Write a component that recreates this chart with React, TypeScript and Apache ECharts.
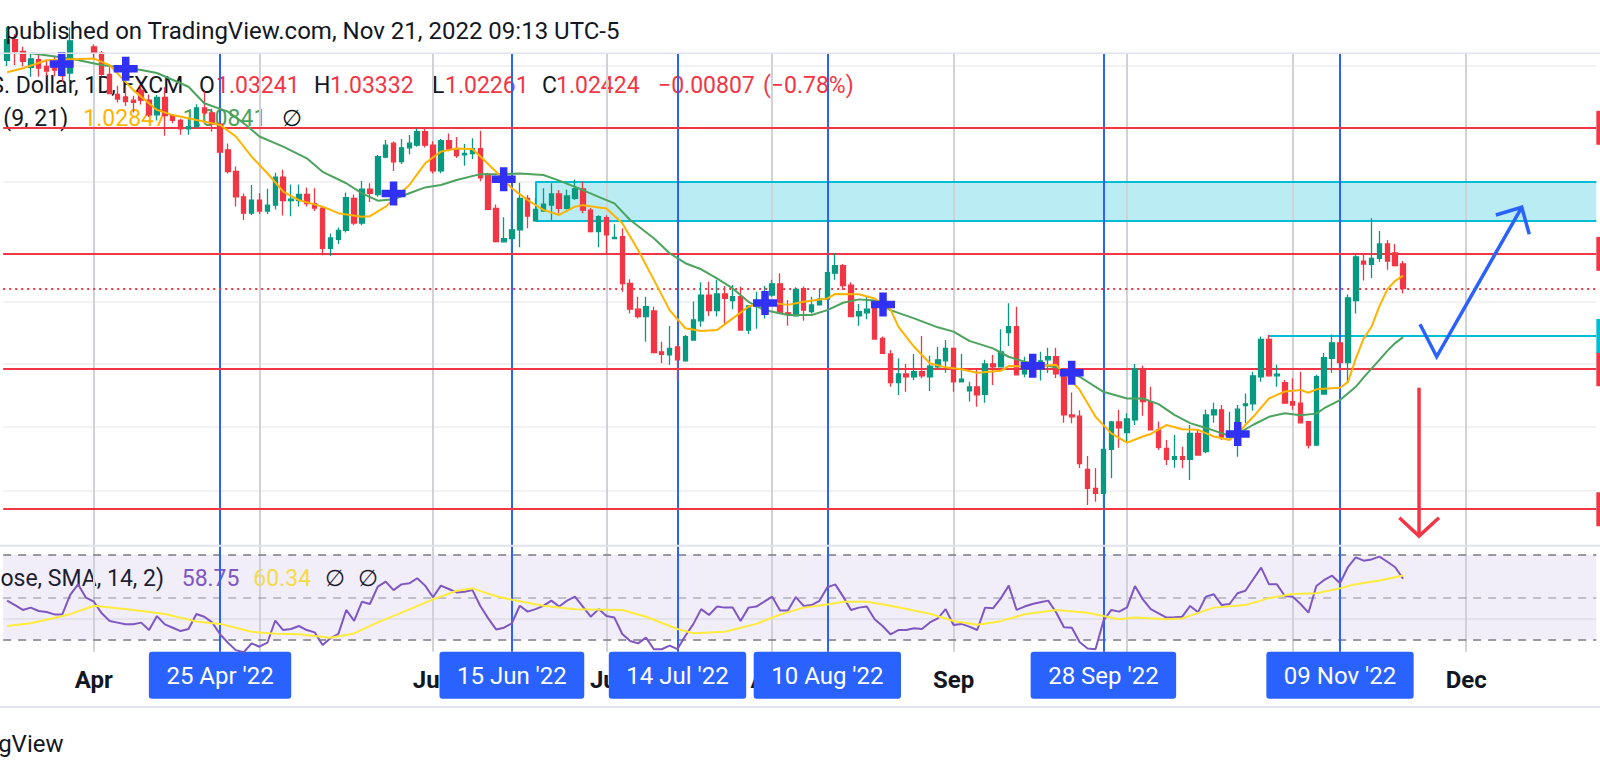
import React, { useEffect, useRef } from "react";
import * as echarts from "echarts";

// ---------- data ----------
const START_DATE = "2022-03-17";
const CATEGORY_COUNT = 202; // weekday slots shown on the time axis (Mar 17 .. Dec 23)

const OPEN = [
  1.1020, 1.1093, 1.1051, 1.0995, 1.1022, 1.0998, 1.1003, 1.0990, 1.0975, 1.1089,
  1.1158, 1.1067, 1.1046, 1.0970, 1.0900, 1.0891, 1.0880, 1.0915, 1.0880, 1.0829,
  1.0890, 1.0826, 1.0810, 1.0780, 1.0788, 1.0853, 1.0836, 1.0797, 1.0708, 1.0634,
  1.0548, 1.0493, 1.0537, 1.0500, 1.0520, 1.0615, 1.0535, 1.0535, 1.0556, 1.0525,
  1.0510, 1.0375, 1.0405, 1.0435, 1.0543, 1.0460, 1.0574, 1.0556, 1.0683, 1.0731,
  1.0668, 1.0715, 1.0724, 1.0771, 1.0724, 1.0636, 1.0740, 1.0711, 1.0691, 1.0695,
  1.0712, 1.0625, 1.0509, 1.0397, 1.0408, 1.0437, 1.0543, 1.0467, 1.0500, 1.0520,
  1.0558, 1.0509, 1.0543, 1.0575, 1.0503, 1.0431, 1.0478, 1.0408, 1.0414, 1.0259,
  1.0175, 1.0151, 1.0169, 1.0037, 1.0027, 1.0053, 1.0008, 1.0075, 1.0137, 1.0221,
  1.0170, 1.0225, 1.0203, 1.0216, 1.0107, 1.0185, 1.0194, 1.0221, 1.0258, 1.0163,
  1.0153, 1.0242, 1.0167, 1.0189, 1.0208, 1.0293, 1.0318, 1.0254, 1.0153, 1.0163,
  1.0185, 1.0080, 1.0030, 0.9938, 0.9966, 0.9957, 0.9973, 0.9957, 0.9989, 1.0008,
  1.0048, 0.9941, 0.9912, 0.9925, 0.9901, 0.9998, 0.9989, 1.0099, 1.0118, 0.9966,
  0.9968, 0.9995, 1.0011, 1.0021, 0.9968, 0.9836, 0.9832, 0.9666, 0.9607, 0.9592,
  0.9728, 0.9814, 0.9780, 0.9820, 0.9982, 0.9878, 0.9789, 0.9731, 0.9697, 0.9705,
  0.9697, 0.9778, 0.9721, 0.9836, 0.9852, 0.9766, 0.9778, 0.9865, 0.9871, 0.9957,
  1.0077, 0.9960, 0.9938, 0.9878, 0.9873, 0.9815, 0.9741, 0.9902, 1.0016, 1.0066,
  1.0002, 1.0203, 1.0333, 1.0322, 1.0342, 1.0390, 1.0360, 1.03241,
];
const HIGH = [
  1.1137, 1.1112, 1.1068, 1.1045, 1.1044, 1.1023, 1.1036, 1.1000, 1.1137, 1.1185,
  1.1176, 1.1077, 1.1053, 1.0995, 1.0930, 1.0927, 1.0895, 1.0930, 1.0900, 1.0898,
  1.0925, 1.0830, 1.0815, 1.0816, 1.0866, 1.0910, 1.0850, 1.0805, 1.0730, 1.0651,
  1.0559, 1.0588, 1.0560, 1.0575, 1.0630, 1.0640, 1.0590, 1.0590, 1.0580, 1.0577,
  1.0515, 1.0425, 1.0445, 1.0563, 1.0556, 1.0602, 1.0594, 1.0690, 1.0742, 1.0737,
  1.0745, 1.0759, 1.0782, 1.0782, 1.0738, 1.0745, 1.0764, 1.0752, 1.0728, 1.0748,
  1.0774, 1.0630, 1.0522, 1.0479, 1.0504, 1.0596, 1.0554, 1.0543, 1.0577, 1.0594,
  1.0571, 1.0572, 1.0607, 1.0599, 1.0510, 1.0486, 1.0486, 1.0456, 1.0442, 1.0273,
  1.0216, 1.0216, 1.0183, 1.0069, 1.0120, 1.0059, 1.0091, 1.0200, 1.0263, 1.0265,
  1.0271, 1.0251, 1.0254, 1.0248, 1.0186, 1.0232, 1.0251, 1.0271, 1.0293, 1.0205,
  1.0247, 1.0249, 1.0216, 1.0243, 1.0361, 1.0359, 1.0323, 1.0263, 1.0192, 1.0216,
  1.0190, 1.0086, 1.0043, 1.0016, 0.9998, 1.0030, 1.0088, 1.0024, 1.0053, 1.0075,
  1.0051, 1.0030, 0.9941, 0.9984, 1.0011, 1.0027, 1.0110, 1.0194, 1.0183, 1.0021,
  1.0030, 1.0037, 1.0050, 1.0050, 0.9976, 0.9907, 0.9851, 0.9707, 0.9670, 0.9755,
  0.9817, 0.9852, 0.9841, 0.9998, 0.9992, 0.9925, 0.9815, 0.9757, 0.9773, 0.9736,
  0.9804, 0.9790, 0.9852, 0.9874, 0.9867, 0.9846, 0.9867, 0.9904, 0.9973, 1.0086,
  1.0091, 0.9995, 0.9947, 0.9952, 0.9973, 0.9816, 0.9963, 1.0033, 1.0093, 1.0080,
  1.0223, 1.0359, 1.0356, 1.0476, 1.0433, 1.0403, 1.0390, 1.03332,
];
const LOW = [
  1.1000, 1.1003, 1.0999, 1.0962, 1.0962, 1.0965, 1.0964, 1.0944, 1.0945, 1.1072,
  1.1060, 1.1025, 1.0963, 1.0902, 1.0872, 1.0860, 1.0837, 1.0865, 1.0821, 1.0809,
  1.0757, 1.0800, 1.0760, 1.0760, 1.0784, 1.0829, 1.0770, 1.0690, 1.0627, 1.0515,
  1.0470, 1.0487, 1.0490, 1.0490, 1.0505, 1.0485, 1.0483, 1.0515, 1.0515, 1.0500,
  1.0352, 1.0350, 1.0390, 1.0428, 1.0452, 1.0452, 1.0531, 1.0548, 1.0679, 1.0636,
  1.0660, 1.0693, 1.0719, 1.0716, 1.0627, 1.0628, 1.0703, 1.0680, 1.0654, 1.0677,
  1.0601, 1.0505, 1.0395, 1.0395, 1.0357, 1.0379, 1.0442, 1.0467, 1.0500, 1.0467,
  1.0493, 1.0505, 1.0537, 1.0493, 1.0428, 1.0379, 1.0359, 1.0408, 1.0232, 1.0161,
  1.0145, 1.0069, 1.0032, 1.0000, 0.9995, 0.9947, 1.0005, 1.0075, 1.0118, 1.0153,
  1.0151, 1.0127, 1.0175, 1.0105, 1.0094, 1.0111, 1.0145, 1.0216, 1.0160, 1.0121,
  1.0150, 1.0137, 1.0161, 1.0189, 1.0203, 1.0271, 1.0238, 1.0150, 1.0121, 1.0142,
  1.0078, 1.0030, 0.9925, 0.9899, 0.9909, 0.9947, 0.9952, 0.9912, 0.9981, 0.9970,
  0.9909, 0.9940, 0.9878, 0.9862, 0.9874, 0.9931, 0.9989, 1.0056, 0.9963, 0.9955,
  0.9957, 0.9945, 0.9969, 0.9953, 0.9811, 0.9810, 0.9670, 0.9556, 0.9566, 0.9543,
  0.9638, 0.9733, 0.9752, 0.9804, 0.9833, 0.9789, 0.9726, 0.9679, 0.9671, 0.9669,
  0.9633, 0.9710, 0.9716, 0.9811, 0.9757, 0.9762, 0.9705, 0.9810, 0.9849, 0.9941,
  0.9957, 0.9925, 0.9872, 0.9852, 0.9811, 0.9731, 0.9741, 0.9900, 0.9970, 0.9970,
  0.9938, 1.0161, 1.0269, 1.0277, 1.0331, 1.0304, 1.0315, 1.02261,
];
const CLOSE = [
  1.1093, 1.1051, 1.1016, 1.1025, 1.0992, 1.0982, 1.0985, 1.0965, 1.1089, 1.1158,
  1.1067, 1.1046, 1.0970, 1.0903, 1.0884, 1.0875, 1.0872, 1.0880, 1.0829, 1.0890,
  1.0826, 1.0810, 1.0780, 1.0788, 1.0853, 1.0836, 1.0797, 1.0700, 1.0634, 1.0548,
  1.0493, 1.0537, 1.0500, 1.0520, 1.0615, 1.0535, 1.0540, 1.0556, 1.0525, 1.0510,
  1.0375, 1.0410, 1.0435, 1.0545, 1.0460, 1.0574, 1.0560, 1.0685, 1.0724, 1.0667,
  1.0715, 1.0731, 1.0771, 1.0724, 1.0636, 1.0740, 1.0711, 1.0688, 1.0696, 1.0712,
  1.0612, 1.0506, 1.0398, 1.0408, 1.0437, 1.0543, 1.0483, 1.0506, 1.0523, 1.0558,
  1.0509, 1.0551, 1.0575, 1.0503, 1.0431, 1.0481, 1.0420, 1.0412, 1.0259, 1.0175,
  1.0151, 1.0183, 1.0034, 1.0029, 1.0048, 1.0011, 1.0086, 1.0140, 1.0221, 1.0170,
  1.0225, 1.0210, 1.0216, 1.0107, 1.0186, 1.0194, 1.0221, 1.0258, 1.0161, 1.0159,
  1.0240, 1.0172, 1.0189, 1.0208, 1.0295, 1.0318, 1.0252, 1.0151, 1.0167, 1.0175,
  1.0078, 1.0032, 0.9938, 0.9966, 0.9957, 0.9973, 0.9960, 0.9991, 1.0011, 1.0048,
  0.9941, 0.9949, 0.9925, 0.9899, 0.9998, 0.9989, 1.0037, 1.0118, 0.9963, 0.9981,
  1.0005, 1.0008, 1.0021, 0.9966, 0.9836, 0.9830, 0.9684, 0.9607, 0.9592, 0.9728,
  0.9814, 0.9795, 0.9823, 0.9982, 0.9878, 0.9789, 0.9734, 0.9697, 0.9705, 0.9697,
  0.9778, 0.9710, 0.9836, 0.9852, 0.9766, 0.9778, 0.9854, 0.9871, 0.9960, 1.0077,
  0.9960, 0.9965, 0.9873, 0.9867, 0.9811, 0.9741, 0.9957, 1.0018, 1.0066, 1.0002,
  1.0212, 1.0347, 1.0323, 1.0342, 1.0390, 1.0333, 1.0318, 1.02424,
];

// moving averages: [bar index, price]
const EMA_FAST_POINTS: [number, number][] = [
  [0, 1.0978], [2, 1.0992], [5, 1.1020], [11, 1.1026], [13, 1.1003], [16, 1.0915], [19, 1.0846],
  [21, 1.0828], [24, 1.0811], [27, 1.0794], [29, 1.0754], [31, 1.0685], [33, 1.0628], [35, 1.0566],
  [37, 1.0537], [40, 1.0515], [42, 1.0493], [45, 1.0481], [46, 1.0483], [48, 1.0515], [51, 1.0588],
  [53, 1.0662], [55, 1.0702], [57, 1.0713], [59, 1.0711], [60, 1.0685], [62, 1.0633], [64, 1.0577],
  [66, 1.0537], [68, 1.0504], [70, 1.0487], [72, 1.0515], [73, 1.0520], [76, 1.0509], [78, 1.0459],
  [80, 1.0370], [82, 1.0271], [84, 1.0172], [86, 1.0113], [88, 1.0104], [90, 1.0107], [92, 1.0145],
  [94, 1.0183], [96, 1.0199], [99, 1.0189], [101, 1.0199], [104, 1.0210], [105, 1.0225], [108, 1.0224],
  [110, 1.0210], [112, 1.0175], [113, 1.0118], [115, 1.0053], [117, 1.0000], [119, 0.9987], [121, 0.9981],
  [123, 0.9970], [126, 0.9976], [127, 0.9991], [130, 0.9989], [133, 0.9995], [136, 0.9915], [138, 0.9830],
  [140, 0.9778], [142, 0.9749], [144, 0.9768], [145, 0.9776], [147, 0.9804], [149, 0.9791], [151, 0.9789],
  [153, 0.9768], [155, 0.9757], [156, 0.9778], [158, 0.9830], [160, 0.9888], [162, 0.9910], [164, 0.9915],
  [165, 0.9906], [166, 0.9917], [169, 0.9922], [170, 0.9940], [171, 1.0015], [172, 1.0080], [173, 1.0118],
  [174, 1.0185], [175, 1.0240], [176, 1.0268], [177, 1.02847],
];
const EMA_SLOW_POINTS: [number, number][] = [
  [3, 1.1045], [8, 1.1026], [12, 1.1003], [17, 1.0986], [19, 1.0975], [23, 1.0927], [25, 1.0869],
  [28, 1.0840], [30, 1.0800], [32, 1.0754], [35, 1.0719], [38, 1.0679], [40, 1.0633], [43, 1.0594],
  [45, 1.0560], [47, 1.0535], [49, 1.0540], [51, 1.0560], [53, 1.0580], [55, 1.0588], [57, 1.0605],
  [60, 1.0625], [63, 1.0625], [65, 1.0627], [68, 1.0622], [70, 1.0603], [73, 1.0571], [75, 1.0548],
  [77, 1.0526], [79, 1.0470], [82, 1.0409], [84, 1.0359], [86, 1.0326], [88, 1.0306], [90, 1.0276],
  [92, 1.0243], [94, 1.0199], [96, 1.0172], [99, 1.0156], [102, 1.0156], [104, 1.0172], [106, 1.0196],
  [108, 1.0207], [110, 1.0203], [112, 1.0172], [115, 1.0145], [118, 1.0116], [120, 1.0102], [122, 1.0072],
  [125, 1.0048], [127, 1.0021], [129, 1.0005], [131, 0.9997], [133, 0.9987], [136, 0.9957], [139, 0.9909],
  [142, 0.9888], [144, 0.9888], [146, 0.9870], [148, 0.9836], [150, 0.9810], [152, 0.9795], [155, 0.9770],
  [156, 0.9776], [158, 0.9805], [160, 0.9830], [162, 0.9841], [164, 0.9835], [166, 0.9840], [167, 0.9857],
  [169, 0.9883], [171, 0.9925], [172, 0.9955], [174, 1.0011], [175, 1.0040], [176, 1.0065], [177, 1.00841],
];

const RSI = [
  48.4, 46.3, 44.0, 45.1, 43.5, 43.0, 41.9, 41.9, 51.1, 56.1,
  49.8, 47.9, 42.4, 38.8, 38.0, 37.2, 37.2, 38.0, 34.5, 41.1,
  37.2, 35.6, 34.0, 35.0, 42.1, 40.8, 38.1, 32.5, 28.5, 25.0,
  24.0, 28.2, 26.6, 28.5, 39.0, 34.5, 35.0, 36.4, 34.5, 33.4,
  27.4, 30.6, 32.7, 44.0, 38.8, 47.9, 46.8, 55.0, 57.4, 53.4,
  56.1, 56.6, 59.0, 55.5, 50.0, 55.5, 53.9, 52.3, 52.6, 53.4,
  45.9, 40.0, 34.8, 35.6, 37.7, 46.0, 43.2, 44.4, 45.9, 48.4,
  45.6, 48.4, 50.3, 45.6, 40.8, 44.4, 41.1, 40.4, 32.6, 29.3,
  28.2, 30.9, 25.4, 25.4, 27.1, 25.5, 31.8, 37.3, 44.4, 41.6,
  45.6, 45.1, 45.2, 38.8, 45.1, 45.6, 47.9, 50.3, 43.7, 43.7,
  50.1, 45.9, 46.3, 48.3, 54.7, 56.1, 50.3, 44.0, 45.1, 45.6,
  39.6, 36.4, 32.5, 34.5, 34.5, 35.3, 35.0, 38.1, 40.0, 44.4,
  36.9, 37.4, 36.1, 34.5, 45.1, 44.8, 49.5, 55.5, 44.0, 45.6,
  46.8, 47.6, 48.4, 42.9, 35.8, 35.6, 28.7, 25.8, 25.4, 38.8,
  44.0, 43.2, 45.2, 55.3, 49.0, 44.4, 42.4, 40.4, 40.5, 40.8,
  45.9, 42.9, 50.3, 51.4, 46.3, 46.8, 51.9, 53.1, 58.5, 64.0,
  56.1, 56.1, 50.6, 50.3, 46.8, 42.7, 55.3, 58.2, 60.2, 56.6,
  64.2, 68.9, 67.3, 67.9, 69.2, 66.8, 64.2, 58.75,
];
const RSI_MA_POINTS: [number, number][] = [
  [0, 36.4], [3, 37.7], [8, 42.0], [11, 46.0], [16, 44.0], [20, 42.1], [24, 38.5], [27, 37.4],
  [31, 33.7], [34, 32.7], [37, 32.5], [41, 30.9], [44, 32.9], [47, 38.1], [51, 44.3], [54, 49.0],
  [57, 53.1], [59, 54.2], [62, 50.5], [64, 48.8], [68, 46.0], [72, 44.3], [78, 44.0], [81, 40.8],
  [85, 35.0], [87, 33.0], [91, 33.7], [95, 37.4], [98, 41.8], [101, 45.1], [104, 46.6], [106, 47.9],
  [109, 47.9], [112, 46.0], [117, 42.2], [120, 38.8], [123, 37.0], [126, 38.7], [129, 42.0], [133, 44.0],
  [137, 42.7], [141, 39.6], [143, 40.4], [147, 39.6], [149, 40.0], [153, 45.1], [157, 46.3], [160, 49.6],
  [163, 51.5], [166, 51.9], [169, 54.2], [171, 56.2], [174, 57.9], [177, 60.34],
];

// MA cross markers: [bar position, price]
const CROSS_POINTS: [number, number][] = [
  [6.92, 1.1007], [15.04, 1.0990], [49.0, 1.0559], [62.96, 1.0608], [96.1, 1.0195],
  [111.06, 1.019], [130.04, 0.9992], [134.98, 0.997], [156.03, 0.9776],
];

// drawings
const RED_LEVELS = [1.0784, 1.0357, 0.9981, 0.9543];
const LAST_CLOSE = 1.02424;
const ZONE_START = 67;
const ZONE_TOP = 1.0599;
const ZONE_BOTTOM = 1.0468;
const SUPPORT_START = 160;
const SUPPORT_LEVEL = 1.0088;
const PRICE_GRID = [0.96, 0.98, 1.0, 1.02, 1.06, 1.1];
const BLUE_ARROW_PATH: [number, number][] = [[179.14, 1.01258], [181.26, 1.00212], [192.04, 1.05127]];
const BLUE_ARROW_HEAD: [number, number][] = [[188.76, 1.04868], [192.04, 1.05127], [193.0, 1.04221]];
const RED_ARROW_PATH: [number, number][] = [[179.02, 0.99221], [179.02, 0.94615]];
const RED_ARROW_HEAD: [number, number][] = [[176.52, 0.95172], [179.02, 0.94615], [181.55, 0.95172]];

const EVENT_DATES = ["2022-04-25", "2022-06-15", "2022-07-14", "2022-08-10", "2022-09-28", "2022-11-09"];
const EVENT_LABELS = ["25 Apr '22", "15 Jun '22", "14 Jul '22", "10 Aug '22", "28 Sep '22", "09 Nov '22"];
const MONTH_NAMES = ["Jan", "Feb", "Mar", "Apr", "May", "Jun", "Jul", "Aug", "Sep", "Oct", "Nov", "Dec"];

// ---------- styling ----------
const FONT = 'Roboto, "Noto Sans", Arial, sans-serif';
const TEXT = "#131722";
const UP = "#089981";
const DOWN = "#F23645";
const RED = "#F23645";
const BLUE = "#2962FF";
const CYAN = "#00BCD4";
const FAST_COLOR = "#FFB300";
const SLOW_COLOR = "#4CA35E";
const RSI_COLOR = "#7E57C2";
const RSI_MA_COLOR = "#FFEB3B";
const CROSS_COLOR = "#3131F5";
const VGRID = "#D1D2D7";
const HGRID = "#EEEEF1";

const GRID_LEFT = 3.16;
const GRID_RIGHT = 3.67;
const MAIN_TOP = 53.3;
const MAIN_HEIGHT = 491.7;
const RSI_TOP = 546;
const RSI_HEIGHT = 105.7;
const PRICE_MIN = 0.943426;
const PRICE_MAX = 1.104463;
const RSI_MIN = 24.25;
const RSI_MAX = 74.25;

function buildCategories(): string[] {
  const out: string[] = [];
  const d = new Date(START_DATE + "T00:00:00Z");
  while (out.length < CATEGORY_COUNT) {
    const wd = d.getUTCDay();
    if (wd !== 0 && wd !== 6) out.push(d.toISOString().slice(0, 10));
    d.setUTCDate(d.getUTCDate() + 1);
  }
  return out;
}

function text(t: string, x: number, y: number, fill: string, extra: any = {}, z = 0) {
  return {
    type: "text",
    x,
    y,
    z,
    silent: true,
    style: {
      text: t,
      fill,
      fontSize: 23,
      fontFamily: FONT,
      fontWeight: "normal",
      align: "left",
      verticalAlign: "middle",
      ...extra,
    },
  };
}

function hline(y: number, color: string, width: number) {
  return {
    type: "line",
    z: 90,
    silent: true,
    shape: { x1: 0, y1: y, x2: 1600, y2: y },
    style: { stroke: color, lineWidth: width },
  };
}

function buildOption() {
  const cats = buildCategories();
  const monthTicks: number[] = [];
  for (let i = 1; i < cats.length; i++) {
    if (cats[i].slice(5, 7) !== cats[i - 1].slice(5, 7)) monthTicks.push(i);
  }
  const monthSet = new Set(monthTicks);
  const eventIdx = EVENT_DATES.map((d) => cats.indexOf(d));
  const xStart = -0.5;
  const xEnd = CATEGORY_COUNT - 0.5;

  const candles = OPEN.map((o, i) => [o, CLOSE[i], LOW[i], HIGH[i]]);

  const noLabel = { show: false };
  const solid = (color: string, width: number) => ({ color, width, type: "solid" });
  // horizontal price line through the whole main pane, given as a coordinate pair
  const priceLine = (v: number, lineStyle: any) => [
    { coord: [xStart, v], lineStyle },
    { coord: [xEnd, v] },
  ];

  const series: any[] = [
    // main pane grid lines
    {
      type: "line",
      xAxisIndex: 1,
      yAxisIndex: 0,
      data: [],
      clip: false,
      silent: true,
      z: 1,
      markLine: {
        silent: true,
        symbol: "none",
        label: noLabel,
        animation: false,
        data: [
          ...PRICE_GRID.map((v) => priceLine(v, solid(HGRID, 1.5))),
          ...monthTicks.map((i) => ({ xAxis: i, lineStyle: solid(VGRID, 2) })),
        ],
      },
    },
    // zone + support
    {
      type: "line",
      xAxisIndex: 1,
      yAxisIndex: 0,
      data: [],
      clip: false,
      silent: true,
      z: 2,
      markArea: {
        silent: true,
        animation: false,
        itemStyle: { color: "rgba(0,188,212,0.27)", borderWidth: 0 },
        data: [[{ coord: [ZONE_START, ZONE_TOP] }, { coord: [xEnd, ZONE_BOTTOM] }]],
      },
      markLine: {
        silent: true,
        symbol: "none",
        label: noLabel,
        animation: false,
        lineStyle: solid(CYAN, 2),
        data: [
          [{ coord: [ZONE_START, ZONE_TOP] }, { coord: [xEnd, ZONE_TOP] }],
          [{ coord: [ZONE_START, ZONE_BOTTOM] }, { coord: [xEnd, ZONE_BOTTOM] }],
          [{ coord: [ZONE_START, ZONE_TOP] }, { coord: [ZONE_START, ZONE_BOTTOM] }],
          [{ coord: [SUPPORT_START, SUPPORT_LEVEL] }, { coord: [xEnd, SUPPORT_LEVEL] }],
        ],
      },
    },
    // red levels, last price, event verticals
    {
      type: "line",
      xAxisIndex: 1,
      yAxisIndex: 0,
      data: [],
      clip: false,
      silent: true,
      z: 3,
      markLine: {
        silent: true,
        symbol: "none",
        label: noLabel,
        animation: false,
        data: [
          ...eventIdx.map((i) => ({ xAxis: i, lineStyle: solid(BLUE, 2) })),
          ...RED_LEVELS.map((v) => priceLine(v, solid(RED, 2))),
          priceLine(LAST_CLOSE, { color: RED, width: 2, type: [2, 4] }),
        ],
      },
      markPoint: {
        silent: true,
        symbol: "rect",
        animation: false,
        label: noLabel,
        data: [
          ...RED_LEVELS.map((v) => ({
            coord: [xEnd, v],
            symbolSize: [8, 34],
            symbolOffset: [4, 0],
            itemStyle: { color: RED },
          })),
          { coord: [xEnd, SUPPORT_LEVEL], symbolSize: [8, 34], symbolOffset: [4, 0], itemStyle: { color: CYAN } },
        ],
      },
    },
    {
      type: "candlestick",
      xAxisIndex: 0,
      yAxisIndex: 0,
      data: candles,
      barWidth: 5,
      z: 5,
      silent: true,
      itemStyle: {
        color: UP,
        color0: DOWN,
        borderColor: UP,
        borderColor0: DOWN,
        borderWidth: 1.3,
      },
    },
    {
      type: "line",
      xAxisIndex: 1,
      yAxisIndex: 0,
      data: EMA_SLOW_POINTS,
      symbol: "none",
      silent: true,
      z: 6,
      lineStyle: { color: SLOW_COLOR, width: 2 },
    },
    {
      type: "line",
      xAxisIndex: 1,
      yAxisIndex: 0,
      data: EMA_FAST_POINTS,
      symbol: "none",
      silent: true,
      z: 6,
      lineStyle: { color: FAST_COLOR, width: 2 },
    },
    {
      type: "scatter",
      xAxisIndex: 1,
      yAxisIndex: 0,
      data: CROSS_POINTS,
      symbol: "path://M8.25,0H15.75V8.25H24V15.75H15.75V24H8.25V15.75H0V8.25H8.25Z",
      symbolSize: 24,
      silent: true,
      z: 8,
      itemStyle: { color: CROSS_COLOR, opacity: 1 },
    },
    ...[
      [BLUE_ARROW_PATH, BLUE],
      [BLUE_ARROW_HEAD, BLUE],
      [RED_ARROW_PATH, RED],
      [RED_ARROW_HEAD, RED],
    ].map(([pts, color]) => ({
      type: "line",
      xAxisIndex: 1,
      yAxisIndex: 0,
      data: pts,
      symbol: "none",
      clip: false,
      silent: true,
      z: 9,
      lineStyle: { color, width: 3.5, cap: "butt", join: "miter" },
    })),
    // RSI pane guides
    {
      type: "line",
      xAxisIndex: 3,
      yAxisIndex: 1,
      data: [],
      clip: false,
      silent: true,
      z: 1,
      markArea: {
        silent: true,
        animation: false,
        itemStyle: { color: "rgba(126,87,194,0.1)" },
        data: [[{ yAxis: 70 }, { yAxis: 30 }]],
      },
      markLine: {
        silent: true,
        symbol: "none",
        label: noLabel,
        animation: false,
        data: [
          { yAxis: 40, lineStyle: solid("#E3E2EA", 2) },
          ...monthTicks.map((i) => ({ xAxis: i, lineStyle: solid(VGRID, 2) })),
          { yAxis: 70, lineStyle: { color: "#787B86", width: 1.5, type: [8, 7] } },
          { yAxis: 50, lineStyle: { color: "rgba(120,123,134,0.55)", width: 1.5, type: [8, 7] } },
          { yAxis: 30, lineStyle: { color: "#787B86", width: 1.5, type: [8, 7] } },
        ],
      },
    },
    {
      type: "line",
      xAxisIndex: 3,
      yAxisIndex: 1,
      data: [],
      clip: false,
      silent: true,
      z: 7,
      markLine: {
        silent: true,
        symbol: "none",
        animation: false,
        lineStyle: solid(BLUE, 2),
        label: {
          show: true,
          position: "start",
          formatter: "{b}",
          distance: 0,
          color: "#ffffff",
          fontSize: 24,
          fontFamily: FONT,
          lineHeight: 24,
          backgroundColor: BLUE,
          padding: [12, 17.5, 11, 17.5],
          borderRadius: 3,
        },
        data: eventIdx.map((i, k) => ({ xAxis: i, name: EVENT_LABELS[k] })),
      },
    },
    {
      type: "line",
      xAxisIndex: 2,
      yAxisIndex: 1,
      data: RSI,
      symbol: "none",
      silent: true,
      z: 5,
      lineStyle: { color: RSI_COLOR, width: 2 },
    },
    {
      type: "line",
      xAxisIndex: 3,
      yAxisIndex: 1,
      data: RSI_MA_POINTS,
      symbol: "none",
      silent: true,
      z: 6,
      lineStyle: { color: RSI_MA_COLOR, width: 2 },
    },
  ];

  const graphic: any[] = [
    hline(MAIN_TOP, "#E0E3EB", 1.5),
    hline(545.8, "#E0E3EB", 2),
    hline(707, "#E0E3EB", 2),
    text("published on TradingView.com, Nov 21, 2022 09:13 UTC-5", 5.5, 31, TEXT, { fontSize: 24 }, 100),
    text("Euro / U.S. Dollar, 1D, FXCM", 183.3, 85, TEXT, { align: "right" }),
    text("O", 199, 85, TEXT),
    text("1.03241", 216, 85, RED),
    text("H", 314, 85, TEXT),
    text("1.03332", 330, 85, RED),
    text("L", 432, 85, TEXT),
    text("1.02261", 445, 85, RED),
    text("C", 542, 85, TEXT),
    text("1.02424", 556, 85, RED),
    text("\u22120.00807", 658, 85, RED),
    text("(\u22120.78%)", 763, 85, RED),
    text("(9, 21)", 3.3, 118.3, TEXT),
    text("1.02847", 83.3, 118.3, FAST_COLOR),
    text("1.00841", 182.7, 118.3, SLOW_COLOR),
    text("\u2205", 281.7, 118.3, TEXT),
    text("RSI (14, close, SMA, 14, 2)", 164, 578.5, TEXT, { align: "right" }),
    text("58.75", 181.7, 578.5, RSI_COLOR),
    text("60.34", 253.3, 578.5, RSI_MA_COLOR),
    text("\u2205", 325, 578.5, TEXT),
    text("\u2205", 358.3, 578.5, TEXT),
    text("TradingView", 63.5, 744, TEXT, { align: "right", fontSize: 24 }, 100),
  ];

  return {
    animation: false,
    backgroundColor: "#ffffff",
    grid: [
      { left: GRID_LEFT, right: GRID_RIGHT, top: MAIN_TOP, height: MAIN_HEIGHT, outerBoundsMode: "none" },
      { left: GRID_LEFT, right: GRID_RIGHT, top: RSI_TOP, height: RSI_HEIGHT, outerBoundsMode: "none" },
    ],
    xAxis: [
      { type: "category", gridIndex: 0, data: cats, boundaryGap: true, show: false },
      { type: "value", gridIndex: 0, min: xStart, max: xEnd, show: false },
      {
        type: "category",
        gridIndex: 1,
        data: cats,
        boundaryGap: true,
        axisLine: { show: false },
        axisTick: { show: false },
        splitLine: { show: false },
        axisLabel: {
          interval: (index: number) => monthSet.has(index),
          formatter: (value: string) => MONTH_NAMES[parseInt(value.slice(5, 7), 10) - 1],
          color: TEXT,
          fontSize: 24,
          fontWeight: "bold",
          fontFamily: FONT,
          margin: 16.5,
        },
      },
      { type: "value", gridIndex: 1, min: xStart, max: xEnd, show: false },
    ],
    yAxis: [
      { type: "log", logBase: 10, gridIndex: 0, min: PRICE_MIN, max: PRICE_MAX, show: false },
      { type: "value", gridIndex: 1, min: RSI_MIN, max: RSI_MAX, show: false },
    ],
    series,
    graphic,
  };
}

export default function App() {
  const ref = useRef<HTMLDivElement>(null);
  useEffect(() => {
    if (!ref.current) return;
    const chart = echarts.init(ref.current, undefined, { renderer: "svg" });
    chart.setOption(buildOption() as any);
    return () => chart.dispose();
  }, []);
  return (
    <div
      ref={ref}
      style={{ position: "fixed", left: 0, top: 0, width: 1600, height: 778, background: "#ffffff" }}
    />
  );
}
